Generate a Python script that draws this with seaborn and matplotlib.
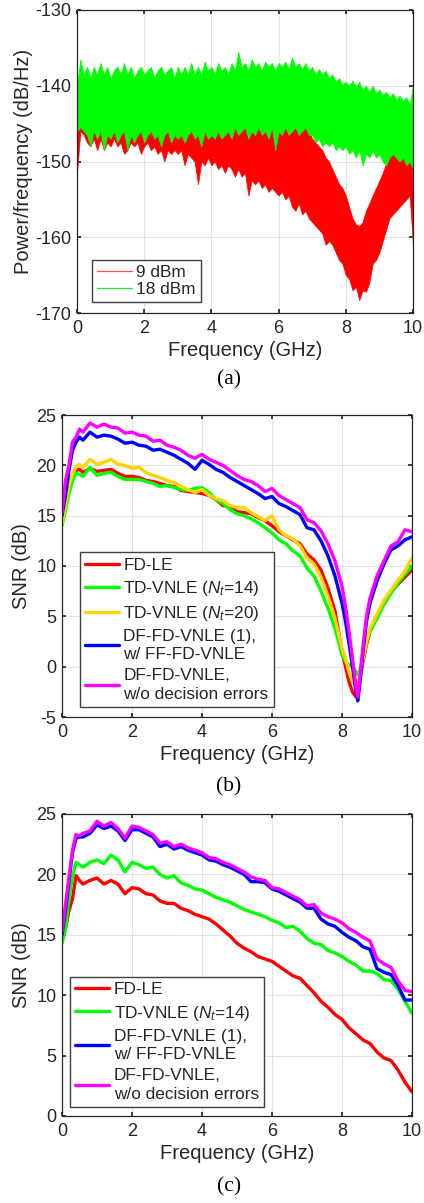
import matplotlib
matplotlib.use("Agg")
import matplotlib.pyplot as plt
from matplotlib.lines import Line2D
import seaborn as sns

# ---------------- data ----------------
# (a) PSD: noisy bands, given as upper / lower envelopes (0.1 GHz steps)
freq_a = [round(0.1 * i, 1) for i in range(101)]

green_hi = [-140, -136.5, -138.5, -137.5, -139, -137.5, -138.5, -137, -138.5, -137.5,
            -139, -138, -137.5, -138.5, -137, -138.5, -137.5, -139, -138, -137.5,
            -138.5, -138, -137.5, -139, -138, -137.5, -138.5, -138, -137.5, -139,
            -137.5, -138.5, -137.5, -138.5, -137, -138.5, -137.5, -138.5, -136.8, -138,
            -137.5, -138.5, -137, -138, -137.5, -138.5, -137, -138, -135.5, -137.5,
            -137, -138, -136.5, -137.5, -137, -138, -136.8, -137.5, -137, -138,
            -137, -137.5, -136.8, -137.8, -136.3, -137.5, -137, -137.8, -137, -138,
            -137.5, -138.5, -137.8, -138.5, -138, -139, -138.5, -139.5, -139, -139.8,
            -139.5, -140, -139.3, -140.2, -139.5, -140.5, -140, -140.8, -140, -141,
            -140.5, -141.2, -140.8, -141.5, -141, -141.8, -141.3, -142, -141.5, -142.5,
            -140]
green_lo = [-146, -145.5, -146, -146.5, -148, -146, -147, -146, -148.5, -146.5,
            -147, -146, -147.5, -146.5, -146, -148.5, -146.5, -147.5, -146.5, -146,
            -147.5, -146.5, -146, -147, -146.5, -148, -146.5, -146, -147.5, -146.5,
            -147, -146.5, -147.5, -146.5, -146, -147, -146.5, -148, -146, -147,
            -146.5, -147, -146, -147, -146.5, -146, -147, -145.5, -146.5, -146,
            -145.5, -147, -146, -146.5, -145.5, -146.5, -146, -147, -145.5, -148.5,
            -146, -146.5, -145.5, -146.5, -146, -145.5, -146.5, -146, -145.5, -146.5,
            -146.5, -147.5, -147, -148, -147.5, -148, -147.5, -148.5, -148, -148.5,
            -148, -149, -148.5, -149.5, -148.5, -150.5, -149, -149.5, -148.5, -149.5,
            -149, -150, -150.5, -149.5, -149, -149.5, -150, -149.5, -150.5, -150,
            -151]
red_hi = [-140.5, -139, -140, -139.5, -140.5, -139.5, -140, -139.5, -140.5, -140,
          -140.5, -140, -139.5, -140.5, -140, -140.5, -140, -140.5, -140, -139.5,
          -140.5, -140, -140.5, -140, -140.5, -140, -140.5, -140, -141, -140.5,
          -141, -140.5, -141, -141.5, -141, -141.5, -141, -141.5, -141, -142,
          -141.5, -142, -141.5, -142, -142.5, -142, -142.5, -142, -143, -142.5,
          -143, -142.5, -143, -143.5, -143, -143.5, -143, -144, -143.5, -144,
          -144, -144.5, -144, -144.5, -144.5, -145, -145.5, -145, -145.5, -146,
          -147, -147.5, -148, -148.5, -149.5, -150, -151, -152, -153, -153.5,
          -154.5, -156, -157.5, -158.3, -158.5, -158, -156.5, -155.5, -154.5, -153.5,
          -152.5, -151.5, -150.2, -149.5, -149, -148.5, -148.5, -148, -148.5, -148,
          -148]
red_lo = [-151.5, -146, -146.5, -147.5, -148, -147, -148.5, -147, -148.5, -147.5,
          -148, -147, -148, -147.5, -149, -148.5, -147.5, -148, -147.5, -149,
          -148, -147.5, -148.5, -148, -149, -148.5, -150, -148.5, -149, -148.5,
          -149, -148.5, -150.5, -149, -149.5, -150, -153, -150, -150.5, -149.5,
          -150.5, -150, -151, -150.5, -151.5, -150.5, -151, -152, -151, -152,
          -151.5, -154.5, -152.5, -153, -152.5, -153.5, -153, -154, -153.5, -154,
          -154.5, -154, -155, -154.5, -156, -156.5, -155.5, -157, -156.5, -157.5,
          -158, -158.5, -159, -159.5, -161, -160.5, -161, -162, -163, -163.5,
          -165, -165.5, -167, -166.5, -168.3, -167, -167.2, -166, -163.5, -163,
          -162, -160.5, -159, -157.5, -157, -156.5, -156, -155.5, -155, -154.5,
          -161]

# (b) SNR, launch power where the notch is visible
freq_b = [0, 0.1, 0.2, 0.3, 0.4, 0.5, 0.6, 0.8, 1.0, 1.2, 1.4, 1.6, 1.8, 2.0, 2.2,
          2.4, 2.6, 2.8, 3.0, 3.2, 3.4, 3.6, 3.8, 4.0, 4.2, 4.4, 4.6, 4.8, 5.0, 5.2,
          5.4, 5.6, 5.8, 6.0, 6.2, 6.4, 6.6, 6.8, 7.0, 7.2, 7.4, 7.6, 7.8, 8.0, 8.1,
          8.2, 8.3, 8.4, 8.45, 8.5, 8.6, 8.7, 8.8, 9.0, 9.2, 9.4, 9.6, 9.8, 10.0]
fdle_b = [14.5, 16.5, 17.8, 18.8, 19.5, 19.6, 19.3, 19.7, 19.4, 19.5, 19.6, 19.2, 18.9, 18.9, 18.8,
          18.5, 18.4, 18.2, 18.0, 17.9, 17.5, 17.4, 17.3, 17.2, 17.0, 16.6, 16.0, 15.9, 15.4, 15.3,
          15.2, 14.8, 14.5, 14.0, 13.4, 13.0, 12.6, 12.2, 11.2, 10.6, 9.6, 7.8, 5.5, 1.5, 0.0,
          -1.5, -2.5, -3.0, -2.8, -1.5, 0.5, 2.2, 3.5, 5.0, 6.3, 7.4, 8.2, 8.9, 9.6]
td14_b = [14.0, 15.5, 17.2, 18.5, 19.2, 19.1, 18.9, 19.8, 19.0, 19.2, 19.3, 18.9, 18.6, 18.6, 18.6,
          18.4, 18.2, 17.9, 18.0, 17.8, 17.6, 17.5, 17.7, 17.8, 17.3, 16.6, 16.2, 15.6, 15.2, 15.0,
          14.7, 14.3, 13.8, 13.3, 12.6, 12.2, 11.5, 11.0, 9.8, 9.0, 7.5, 5.8, 3.8, 1.2, 0.5,
          0.2, 0.0, -0.5, -0.8, -0.5, 1.0, 2.5, 3.5, 4.8, 6.2, 7.3, 8.3, 9.2, 10.0]
td20_b = [14.2, 16.0, 18.0, 19.2, 19.8, 20.1, 19.8, 20.6, 20.1, 20.3, 20.6, 20.1, 20.0, 19.7, 19.8,
          19.3, 19.0, 18.8, 18.5, 18.3, 17.9, 17.6, 17.3, 17.6, 17.0, 16.7, 16.5, 16.0, 15.8, 15.8,
          15.3, 14.9, 14.5, 15.0, 13.6, 13.0, 12.7, 12.0, 10.8, 10.2, 8.9, 7.0, 4.8, 1.8, 0.8,
          -0.5, -1.5, -2.0, -2.0, -1.0, 0.8, 2.5, 3.8, 5.2, 6.6, 7.6, 8.6, 9.5, 10.8]
dfff_b = [15.0, 17.0, 19.5, 21.5, 22.3, 22.8, 22.5, 23.3, 22.8, 23.0, 22.9, 22.6, 22.2, 22.3, 22.0,
          21.9, 21.5, 21.6, 21.3, 21.0, 20.6, 20.2, 19.6, 20.5, 20.1, 19.6, 19.3, 18.8, 18.4, 18.0,
          17.6, 17.2, 16.7, 16.9, 16.2, 15.9, 15.5, 15.1, 13.8, 13.6, 12.5, 11.0, 9.0, 6.3, 4.5,
          2.3, 0.0, -2.5, -3.4, -2.0, 1.5, 4.5, 6.3, 8.5, 10.2, 11.6, 12.0, 12.6, 12.9]
dfideal_b = [15.2, 18.5, 20.0, 22.3, 22.8, 23.6, 23.3, 24.2, 23.8, 24.1, 23.8, 23.7, 23.2, 23.3, 23.0,
             22.9, 22.4, 22.5, 22.0, 21.8, 21.5, 21.0, 20.7, 21.1, 20.6, 20.3, 20.0, 19.5, 19.0, 18.6,
             18.4, 18.0, 17.4, 17.7, 17.0, 16.6, 16.2, 15.8, 14.6, 14.3, 13.5, 12.2, 10.5, 8.0, 6.0,
             3.5, 0.8, -2.0, -3.0, -1.5, 2.0, 5.0, 6.8, 9.0, 10.5, 12.0, 12.4, 13.6, 13.4]

# (c) SNR, higher launch power
freq_c = [0, 0.1, 0.2, 0.3, 0.4, 0.5, 0.6, 0.8, 1.0, 1.2, 1.4, 1.6, 1.8, 2.0, 2.2,
          2.4, 2.6, 2.8, 3.0, 3.2, 3.4, 3.6, 3.8, 4.0, 4.2, 4.4, 4.6, 4.8, 5.0, 5.2,
          5.4, 5.6, 5.8, 6.0, 6.2, 6.4, 6.6, 6.8, 7.0, 7.2, 7.4, 7.6, 7.8, 8.0, 8.2,
          8.4, 8.6, 8.8, 9.0, 9.2, 9.4, 9.6, 9.8, 10.0]
fdle_c = [14.5, 15.5, 17.0, 18.0, 19.9, 19.5, 19.2, 19.5, 19.7, 19.2, 19.5, 19.2, 18.4, 18.9, 18.8,
          18.4, 18.3, 17.8, 17.6, 17.6, 17.2, 17.0, 16.7, 16.5, 16.3, 15.9, 15.4, 14.9, 14.3, 13.9,
          13.6, 13.2, 13.0, 12.8, 12.4, 12.0, 11.6, 11.4, 10.8, 10.2, 9.5, 9.0, 8.4, 8.0, 7.3,
          6.8, 6.3, 6.0, 5.3, 4.8, 4.6, 3.8, 2.8, 2.0]
td14_c = [14.3, 15.5, 18.0, 19.8, 21.0, 20.8, 20.6, 21.0, 21.2, 20.9, 21.6, 21.2, 20.2, 21.0, 20.8,
          20.5, 20.6, 20.0, 19.7, 19.9, 19.3, 19.1, 18.8, 18.7, 18.4, 18.1, 17.9, 17.7, 17.4, 17.1,
          16.9, 16.7, 16.5, 16.2, 16.0, 15.6, 15.7, 15.3, 14.7, 14.3, 14.2, 13.7, 13.5, 13.2, 12.8,
          12.5, 12.0, 12.0, 11.8, 11.3, 11.2, 10.5, 9.5, 8.5]
dfff_c = [15.0, 17.0, 19.5, 21.8, 23.0, 23.1, 23.1, 23.4, 24.1, 23.8, 24.0, 23.6, 22.8, 23.7, 23.7,
          23.4, 23.1, 22.3, 22.5, 22.1, 22.3, 22.0, 21.8, 21.6, 21.2, 21.1, 20.8, 20.6, 20.3, 20.0,
          19.4, 19.4, 19.3, 18.8, 18.6, 18.3, 18.0, 17.7, 17.2, 17.2, 16.3, 15.9, 15.7, 15.2, 14.8,
          14.5, 14.0, 13.8, 12.2, 11.9, 11.7, 10.8, 9.6, 9.6]
dfideal_c = [15.3, 17.5, 19.8, 22.0, 23.3, 23.2, 23.4, 23.6, 24.4, 24.0, 24.3, 23.8, 23.0, 24.0, 23.9,
             23.6, 23.3, 22.6, 22.7, 22.3, 22.5, 22.2, 22.0, 21.8, 21.4, 21.3, 21.0, 20.8, 20.5, 20.2,
             19.8, 19.6, 19.5, 18.9, 18.8, 18.5, 18.2, 17.9, 17.4, 17.5, 16.8, 16.5, 16.3, 16.0, 15.5,
             15.2, 14.8, 14.5, 13.0, 12.6, 12.3, 11.2, 10.4, 10.3]

label_fdle = 'FD-LE'
label_td14 = 'TD-VNLE ($N_t$=14)'
label_td20 = 'TD-VNLE ($N_t$=20)'
label_dfff = 'DF-FD-VNLE (1),\nw/ FF-FD-VNLE'
label_ideal = 'DF-FD-VNLE,\nw/o decision errors'

RED, GREEN, YELLOW, BLUE, MAGENTA = '#ff0000', '#00ff00', '#ffd400', '#0000ff', '#ff00ff'

# ---------------- style ----------------
sns.set_theme(style="whitegrid", rc={
    "axes.edgecolor": "#262626", "axes.linewidth": 0.9,
    "grid.color": "#e3e3e3", "grid.linewidth": 0.8,
    "xtick.direction": "in", "ytick.direction": "in",
    "xtick.bottom": True, "ytick.left": True,
    "xtick.major.size": 3, "ytick.major.size": 3,
    "xtick.major.pad": 5, "ytick.major.pad": 4,
    "xtick.color": "#262626", "ytick.color": "#262626",
    "text.color": "#262626", "axes.labelcolor": "#262626",
})
plt.rcParams['font.family'] = ['Liberation Sans', 'DejaVu Sans']
plt.rcParams['axes.unicode_minus'] = False
plt.rcParams['mathtext.fontset'] = 'custom'
plt.rcParams['mathtext.it'] = 'Liberation Sans:italic'
plt.rcParams['mathtext.rm'] = 'Liberation Sans'

W, H = 424, 1203
fig = plt.figure(figsize=(W / 100, H / 100), dpi=100)


def box(l, t, r, b):
    return [l / W, 1 - b / H, (r - l) / W, (b - t) / H]


ax_a = fig.add_axes(box(77, 10, 413, 313))
ax_b = fig.add_axes(box(62, 415, 412, 717))
ax_c = fig.add_axes(box(62, 814, 412, 1116))

TICK_FS, LABEL_FS, LEG_FS = 13, 14.5, 12.4
leg_kw = dict(loc='lower left', fontsize=LEG_FS, frameon=True, fancybox=False, framealpha=1,
              edgecolor='#404040', handlelength=2.0, handletextpad=0.25, borderpad=0.3,
              labelspacing=0.35, borderaxespad=0)

# ---------------- (a) ----------------
ax_a.fill_between(freq_a, red_lo, red_hi, color=RED, lw=0.5)
ax_a.fill_between(freq_a, green_lo, green_hi, color=GREEN, lw=0.5)
ax_a.set_xlim(0, 10)
ax_a.set_ylim(-170, -130)
ax_a.set_yticks([-170, -160, -150, -140, -130])
ax_a.set_xticks([0, 2, 4, 6, 8, 10])
ax_a.set_ylabel('Power/frequency (dB/Hz)', fontsize=LABEL_FS, labelpad=2)
ax_a.set_xlabel('Frequency (GHz)', fontsize=LABEL_FS, labelpad=3)
handles_a = [Line2D([], [], color='#ff5050', lw=0.9), Line2D([], [], color='#30e030', lw=0.9)]
ax_a.legend(handles_a, ['9 dBm', '18 dBm'], bbox_to_anchor=(0.045, 0.035),
            **{**leg_kw, 'labelspacing': 0.12})

# ---------------- (b) ----------------
for vals, col, lab in [(fdle_b, RED, label_fdle), (td14_b, GREEN, label_td14),
                       (td20_b, YELLOW, label_td20), (dfff_b, BLUE, label_dfff),
                       (dfideal_b, MAGENTA, label_ideal)]:
    sns.lineplot(x=freq_b, y=vals, color=col, lw=2.4, label=lab, ax=ax_b)
ax_b.set_xlim(0, 10)
ax_b.set_ylim(-5, 25)
ax_b.set_yticks([-5, 0, 5, 10, 15, 20, 25])
ax_b.set_xticks([0, 2, 4, 6, 8, 10])
ax_b.set_ylabel('SNR (dB)', fontsize=LABEL_FS, labelpad=4)
ax_b.set_xlabel('Frequency (GHz)', fontsize=LABEL_FS, labelpad=3)
leg = ax_b.legend(bbox_to_anchor=(0.05, 0.033), **leg_kw)
for t in leg.get_texts():
    t.set_linespacing(1.3)

# ---------------- (c) ----------------
for vals, col, lab in [(fdle_c, RED, label_fdle), (td14_c, GREEN, label_td14),
                       (dfff_c, BLUE, label_dfff), (dfideal_c, MAGENTA, label_ideal)]:
    sns.lineplot(x=freq_c, y=vals, color=col, lw=2.4, label=lab, ax=ax_c)
ax_c.set_xlim(0, 10)
ax_c.set_ylim(0, 25)
ax_c.set_yticks([0, 5, 10, 15, 20, 25])
ax_c.set_xticks([0, 2, 4, 6, 8, 10])
ax_c.set_ylabel('SNR (dB)', fontsize=LABEL_FS, labelpad=4)
ax_c.set_xlabel('Frequency (GHz)', fontsize=LABEL_FS, labelpad=3)
leg = ax_c.legend(bbox_to_anchor=(0.022, 0.03), **leg_kw)
for t in leg.get_texts():
    t.set_linespacing(1.3)

for ax in (ax_a, ax_b, ax_c):
    ax.tick_params(labelsize=TICK_FS, top=True, right=True)
    for s in ax.spines.values():
        s.set_visible(True)
        s.set_color('#262626')

for txt, y in [('(a)', 380), ('(b)', 787), ('(c)', 1187)]:
    fig.text(229 / W, 1 - y / H, txt, ha='center', va='center',
             fontsize=15.5, family='Liberation Serif', color='black')

fig.savefig('out.png', dpi=100)
